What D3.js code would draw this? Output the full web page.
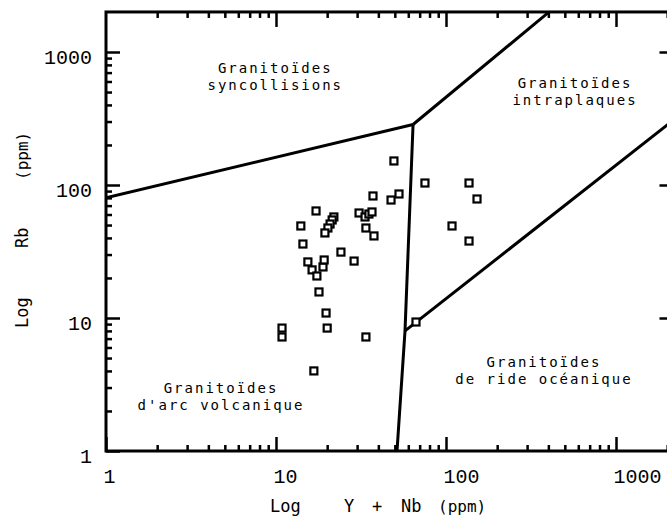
<!DOCTYPE html>
<html>
<head>
<meta charset="utf-8">
<script src="https://cdn.jsdelivr.net/npm/d3@7"></script>
<style>
body { margin: 0; background: #fff; overflow: hidden; }
</style>
</head>
<body>
<div class="plot"></div>
<script>
// samples: Y+Nb (ppm) and Rb (ppm)
const ynb = [49.4, 37.2, 47.5, 52.9, 75.2, 136.6, 152.2, 108.5, 136.6,
  30.8, 33.4, 35.2, 36.7, 33.8, 37.7, 17.2, 14.0, 21.9, 21.4, 20.8, 20.2, 19.4,
  14.4, 24.1, 28.8, 15.4, 16.3, 17.4, 18.9, 19.2, 17.9, 19.7, 20.0, 33.8, 16.7,
  10.85, 10.85, 66.6]
const rb = [151.6, 82.7, 77.1, 85.6, 103.5, 103.5, 78.5, 49.2, 37.9,
  61.6, 57.5, 60.5, 62.7, 47.5, 41.4, 63.8, 49.2, 57.5, 54.6, 50.9, 47.5, 43.6,
  36.0, 31.3, 26.8, 26.4, 23.0, 20.7, 24.2, 27.3, 15.7, 10.9, 8.4, 7.2, 4.0,
  8.4, 7.2, 9.33]

// field boundaries (Pearce et al.)
const synColBound = [[1, 80], [64, 285]]
const wpgBound = [[64, 285], [404, 2000]]
const vagBound = [[64, 285], [57.4, 8], [51.5, 1]]
const orgBound = [[57.4, 8], [2300, 325]]

const majorTicks = [1, 10, 100, 1000]
const minorX = [2,3,4,5,6,7,8,9,20,30,40,50,60,70,80,90,200,300,400,500,600,700,800,900,2000]
const minorY = [2,3,4,5,6,7,8,9,20,30,40,50,60,70,80,90,200,300,400,500,600,700,800,900]

const fieldNames = [
  {lines: ['Granitoïdes', 'syncollisions'], x: 9.9, y: 695},
  {lines: ['Granitoïdes', 'intraplaques'], x: 574, y: 536},
  {lines: ['Granitoïdes', 'de ride océanique'], x: 377, y: 4.28},
  {lines: ['Granitoïdes', "d'arc volcanique"], x: 4.75, y: 2.73}
]

const width = 667, height = 519

const x = d3.scaleLog().domain([1, 1000]).range([106, 616])
const y = d3.scaleLog().domain([1, 1000]).range([451, 52])

const fLeft = x(1), fRight = x(2300), fTop = y(2000), fBottom = y(1)

const svg = d3.select('.plot').append('svg')
  .attr('width', width)
  .attr('height', height)
  .style('display', 'block')

svg.append('clipPath').attr('id', 'frame')
  .append('rect')
  .attr('x', fLeft).attr('y', fTop)
  .attr('width', fRight - fLeft).attr('height', fBottom - fTop)

// ticks
function styleAxis(g, w) {
  g.select('.domain').remove()
  g.selectAll('.tick line').attr('stroke', 'black').attr('stroke-width', w)
}

svg.append('g')
  .attr('transform', `translate(0,${fBottom})`)
  .call(d3.axisBottom(x).tickValues(majorTicks).tickSize(-14).tickFormat(d3.format('d')))
  .call(g => styleAxis(g, 2.5))
  .call(g => g.selectAll('text')
    .attr('y', 32).attr('dy', 0).attr('x', -3)
    .attr('text-anchor', 'start')
    .attr('fill', 'black')
    .attr('font-family', 'Liberation Mono')
    .attr('font-size', 20))

svg.append('g')
  .attr('transform', `translate(0,${fBottom})`)
  .call(d3.axisBottom(x).tickValues(minorX).tickSize(-6).tickFormat(''))
  .call(g => styleAxis(g, 2.5))

svg.append('g')
  .attr('transform', `translate(0,${fTop})`)
  .call(d3.axisTop(x).tickValues(majorTicks.slice(1)).tickSize(-15).tickFormat(''))
  .call(g => styleAxis(g, 2.5))

svg.append('g')
  .attr('transform', `translate(0,${fTop})`)
  .call(d3.axisTop(x).tickValues(minorX).tickSize(-6).tickFormat(''))
  .call(g => styleAxis(g, 2.5))

svg.append('g')
  .attr('transform', `translate(${fLeft},0)`)
  .call(d3.axisLeft(y).tickValues(majorTicks).tickSize(-14).tickFormat(d3.format('d')))
  .call(g => styleAxis(g, 2.5))
  .call(g => g.selectAll('text')
    .attr('x', -14).attr('dy', 0).attr('y', 11.5)
    .attr('text-anchor', 'end')
    .attr('fill', 'black')
    .attr('font-family', 'Liberation Mono')
    .attr('font-size', 20))

svg.append('g')
  .attr('transform', `translate(${fLeft},0)`)
  .call(d3.axisLeft(y).tickValues(minorY).tickSize(-6).tickFormat(''))
  .call(g => styleAxis(g, 2.5))

svg.append('g')
  .attr('transform', `translate(${fRight},0)`)
  .call(d3.axisRight(y).tickValues([10, 100, 1000]).tickSize(-18).tickFormat(''))
  .call(g => styleAxis(g, 2.5))

// frame
svg.append('rect')
  .attr('x', fLeft).attr('y', fTop)
  .attr('width', fRight - fLeft).attr('height', fBottom - fTop)
  .attr('fill', 'none')
  .attr('stroke', 'black')
  .attr('stroke-width', 3)

// boundaries
const line = d3.line().x(d => x(d[0])).y(d => y(d[1]))

svg.append('g').attr('clip-path', 'url(#frame)')
  .selectAll('.bound')
  .data([synColBound, wpgBound, vagBound, orgBound])
  .enter()
  .append('path')
  .attr('class', 'bound')
  .attr('d', line)
  .attr('fill', 'none')
  .attr('stroke', 'black')
  .attr('stroke-width', 3)
  .attr('stroke-linejoin', 'round')

// samples
const pts = ynb.map((v, i) => ({ynb: v, rb: rb[i]}))
const s = 7

svg.selectAll('.sample')
  .data(pts)
  .enter()
  .append('rect')
  .attr('class', 'sample')
  .attr('x', d => x(d.ynb) - s / 2)
  .attr('y', d => y(d.rb) - s / 2)
  .attr('width', s)
  .attr('height', s)
  .attr('fill', 'white')
  .attr('stroke', 'black')
  .attr('stroke-width', 2.2)

// field names
const names = svg.selectAll('.field')
  .data(fieldNames)
  .enter()
  .append('text')
  .attr('class', 'field')
  .attr('font-family', 'DejaVu Sans Mono')
  .attr('font-size', 14)
  .attr('letter-spacing', 2)
  .attr('text-anchor', 'middle')
  .attr('fill', 'black')

names.selectAll('tspan')
  .data(d => d.lines.map((t, i) => ({t, i, x: d.x, y: d.y})))
  .enter()
  .append('tspan')
  .attr('x', d => x(d.x))
  .attr('y', d => y(d.y) + d.i * 17)
  .text(d => d.t)

// axis titles
const xTitle = svg.append('text')
  .attr('font-family', 'DejaVu Sans Mono')
  .attr('font-size', 17)
  .attr('fill', 'black')
  .attr('y', 512)
xTitle.append('tspan').attr('x', 270).text('Log')
xTitle.append('tspan').attr('x', 344).text('Y')
xTitle.append('tspan').attr('x', 372).text('+')
xTitle.append('tspan').attr('x', 401).text('Nb')
xTitle.append('tspan').attr('x', 438).attr('font-size', 16).text('(ppm)')

const yTitle = svg.append('text')
  .attr('font-family', 'DejaVu Sans Mono')
  .attr('font-size', 17)
  .attr('fill', 'black')
  .attr('transform', 'translate(28,0) rotate(-90)')
yTitle.append('tspan').attr('x', -328).text('Log')
yTitle.append('tspan').attr('x', -248).text('Rb')
yTitle.append('tspan').attr('x', -180).attr('font-size', 16).text('(ppm)')
</script>
</body>
</html>
